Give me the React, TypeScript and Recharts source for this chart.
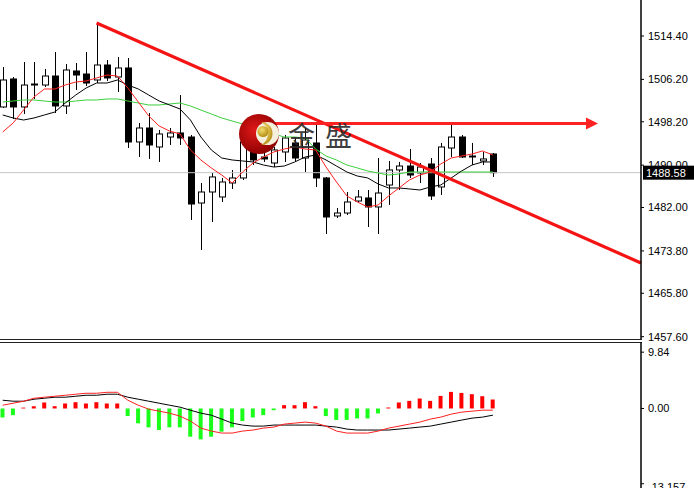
import {
  ComposedChart, Bar, Line, XAxis, YAxis, ReferenceLine, ReferenceDot, Cell,
} from 'recharts';

// K线数据
const opens = [1500.99, 1506.28, 1500.99, 1505.14, 1505.14, 1506.84, 1501.18, 1507.79, 1507.22, 1506.09, 1508.92, 1506.65, 1508.36, 1494.38, 1497.02, 1493.43, 1495.32, 1496.08, 1495.32, 1482.85, 1484.93, 1483.99, 1486.63, 1487.58, 1492.49, 1491.54, 1490.41, 1492.49, 1494.19, 1491.35, 1494.19, 1487.58, 1480.40, 1480.96, 1483.23, 1483.80, 1482.10, 1486.25, 1489.09, 1489.84, 1488.52, 1490.22, 1485.88, 1493.24, 1495.32, 1491.54, 1490.79, 1492.11];
const highs = [1508.54, 1506.65, 1509.49, 1509.49, 1508.17, 1511.38, 1509.11, 1509.30, 1511.38, 1516.86, 1509.87, 1510.43, 1510.24, 1497.97, 1499.85, 1496.64, 1497.02, 1503.25, 1495.70, 1486.63, 1488.52, 1487.58, 1489.09, 1495.13, 1493.81, 1492.87, 1493.43, 1495.70, 1495.32, 1497.02, 1498.15, 1487.77, 1481.91, 1484.93, 1485.31, 1485.31, 1491.35, 1490.79, 1490.60, 1493.05, 1490.41, 1491.35, 1494.19, 1497.59, 1495.70, 1494.19, 1492.49, 1492.30];
const lows = [1500.80, 1498.72, 1499.67, 1502.50, 1504.77, 1499.85, 1499.67, 1504.20, 1504.95, 1505.52, 1505.90, 1503.82, 1493.24, 1491.54, 1491.17, 1490.60, 1493.81, 1493.81, 1479.64, 1473.98, 1479.27, 1483.04, 1485.50, 1487.20, 1490.03, 1490.60, 1489.65, 1490.60, 1490.60, 1488.71, 1485.88, 1477.00, 1480.02, 1480.59, 1482.85, 1478.32, 1477.00, 1482.48, 1485.31, 1487.58, 1486.63, 1483.42, 1484.37, 1491.54, 1491.35, 1490.03, 1490.03, 1487.77];
const closes = [1506.09, 1500.99, 1505.14, 1505.33, 1506.84, 1501.18, 1507.98, 1507.03, 1505.52, 1508.92, 1506.47, 1508.36, 1494.38, 1497.02, 1493.81, 1495.89, 1496.08, 1495.13, 1482.66, 1484.93, 1487.77, 1486.82, 1487.58, 1494.38, 1490.98, 1491.17, 1492.87, 1495.13, 1491.35, 1494.75, 1487.58, 1480.21, 1480.96, 1483.04, 1483.99, 1482.10, 1484.74, 1489.09, 1489.84, 1488.14, 1489.65, 1484.18, 1493.43, 1495.32, 1491.54, 1491.73, 1491.17, 1488.58];

// 均线
const maFast = [1496.27, 1497.97, 1500.42, 1502.88, 1504.39, 1504.39, 1505.14, 1505.71, 1505.90, 1506.47, 1507.03, 1506.84, 1504.58, 1501.93, 1499.29, 1497.40, 1496.45, 1495.89, 1492.87, 1490.98, 1489.47, 1488.14, 1486.63, 1488.71, 1490.41, 1491.54, 1492.49, 1493.05, 1493.43, 1493.05, 1492.87, 1489.65, 1486.82, 1484.18, 1483.04, 1482.10, 1482.48, 1484.18, 1485.69, 1487.20, 1488.14, 1488.71, 1490.22, 1491.35, 1491.73, 1492.11, 1492.68, 1491.92];
const maMid = [1499.48, 1498.91, 1498.53, 1498.91, 1499.48, 1500.04, 1501.74, 1503.25, 1504.58, 1505.52, 1505.52, 1506.09, 1505.14, 1504.39, 1503.25, 1502.12, 1501.37, 1500.61, 1498.53, 1495.32, 1492.87, 1491.35, 1490.98, 1490.79, 1490.60, 1490.03, 1489.65, 1489.84, 1490.60, 1491.54, 1491.92, 1490.98, 1489.84, 1488.71, 1487.95, 1487.58, 1486.44, 1485.69, 1485.69, 1485.50, 1485.31, 1485.88, 1486.25, 1487.58, 1488.90, 1490.03, 1490.60, 1490.60];
const maSlow = [1501.93, 1502.12, 1502.31, 1502.31, 1502.12, 1501.93, 1501.93, 1502.12, 1502.31, 1502.31, 1502.50, 1502.50, 1502.12, 1501.74, 1501.37, 1501.37, 1501.56, 1501.74, 1501.18, 1500.42, 1499.67, 1498.91, 1498.34, 1497.78, 1497.21, 1496.64, 1495.89, 1495.32, 1495.32, 1495.13, 1493.05, 1491.73, 1490.98, 1490.03, 1489.47, 1488.90, 1488.52, 1488.14, 1488.33, 1488.71, 1488.71, 1488.71, 1488.71, 1488.71, 1488.71, 1488.71, 1488.71, 1488.71];

// MACD
const macdMain = [1.44, 1.27, 1.27, 1.62, 1.79, 1.97, 1.97, 2.14, 2.31, 2.31, 2.49, 2.49, 1.97, 1.62, 1.27, 0.92, 0.57, 0.23, -0.30, -0.82, -1.17, -1.86, -2.56, -2.90, -3.08, -3.08, -2.90, -2.90, -2.90, -2.90, -2.90, -3.08, -3.25, -3.60, -3.77, -3.77, -3.77, -3.77, -3.60, -3.43, -3.25, -3.08, -2.73, -2.38, -2.03, -1.69, -1.51, -1.17];
const macdSignal = [0.57, 0.92, 1.27, 1.79, 1.97, 2.14, 2.31, 2.49, 2.66, 2.66, 2.83, 2.83, 1.44, 0.57, -0.12, -0.47, -0.82, -1.34, -2.20, -3.43, -3.95, -4.30, -4.30, -3.95, -3.77, -3.43, -3.25, -2.73, -2.56, -2.38, -2.56, -3.08, -3.95, -4.30, -4.30, -4.30, -3.95, -3.43, -3.08, -2.73, -2.38, -1.86, -1.51, -0.99, -0.64, -0.47, -0.30, -0.30];
const macdHist = [-1.57, -1.17, 0.15, 0.40, 1.05, 0.40, 0.87, 1.10, 0.87, 1.10, 0.87, 0.87, -1.33, -2.60, -3.30, -3.77, -3.30, -3.30, -4.93, -5.40, -4.93, -4.06, -3.30, -2.20, -1.57, -1.16, -0.30, 0.58, 0.58, 1.10, 0.40, -1.33, -2.00, -2.00, -1.74, -1.74, -0.87, 0.17, 1.05, 1.33, 1.74, 1.33, 2.20, 2.90, 2.72, 2.50, 2.14, 1.57];

const priceTicks = [1514.40, 1506.20, 1498.20, 1490.00, 1482.00, 1473.80, 1465.80, 1457.60];
const macdTicks = [9.84, 0, -13.157];
const macdMinLabel = '-13.157';

// 趋势线 / 水平箭头
const trendStart = { x: 9, y: 1516.86 };
const trendEnd = { x: 61.2, y: 1471.52 };
const arrowLevel = 1497.87;
const arrowFrom = 24.2;
const arrowTo = 56.1;
const arrowTip = 56.5;

const lastPrice = closes[closes.length - 1];

const FONT = "'Liberation Sans', Arial, sans-serif";
const X_DOMAIN: [number, number] = [-0.26, 61.2];

const candles = opens.map((o, i) => ({
  i,
  open: o,
  high: highs[i],
  low: lows[i],
  close: closes[i],
  range: [lows[i], highs[i]],
  maFast: maFast[i],
  maMid: maMid[i],
  maSlow: maSlow[i],
}));

const macdData = macdMain.map((m, i) => ({
  i,
  main: m,
  signal: macdSignal[i],
  hist: macdHist[i],
}));

function Candle(props: any) {
  const { x, y, width, height, payload } = props;
  const { open, close, high, low } = payload;
  const top = Math.min(y, y + height);
  const h = Math.abs(height);
  const k = high === low ? 0 : h / (high - low);
  const cx = Math.round(x + width / 2) + 0.5;
  const bTop = top + (high - Math.max(open, close)) * k;
  const bBot = top + (high - Math.min(open, close)) * k;
  const bull = close >= open;
  return (
    <g>
      <line x1={cx} x2={cx} y1={top} y2={top + h} stroke="#000" strokeWidth={1} />
      <rect
        x={cx - 3}
        y={bTop}
        width={6}
        height={Math.max(bBot - bTop, 1)}
        fill={bull ? '#fff' : '#000'}
        stroke="#000"
        strokeWidth={1}
      />
    </g>
  );
}

function PriceTag(props: any) {
  const { viewBox } = props;
  if (!viewBox) return null;
  const x = viewBox.x + viewBox.width + 2;
  const y = viewBox.y;
  return (
    <g>
      <rect x={x} y={y - 7} width={52} height={14} fill="#000" />
      <text x={x + 3} y={y + 4} fill="#fff" fontSize={11} fontFamily={FONT}>
        {lastPrice.toFixed(2)}
      </text>
    </g>
  );
}

// 副图刻度：最小值标签贴底，只露出上半截
function MacdTick(props: any) {
  const { x, y, payload } = props;
  const v = payload.value;
  const isMin = v === macdTicks[2];
  return (
    <text x={x} y={isMin ? y + 3.5 : y} dy="0.355em" fontSize={11} fill="#000" fontFamily={FONT} textAnchor="start">
      {isMin ? macdMinLabel : v.toFixed(2)}
    </text>
  );
}

function ArrowHead(props: any) {
  const { cx, cy } = props;
  return <polygon points={`${cx - 6},${cy - 6} ${cx + 6},${cy} ${cx - 6},${cy + 6}`} fill="#f22" />;
}

function Logo() {
  return (
    <svg width={694} height={340} style={{ position: 'absolute', left: 0, top: 0, pointerEvents: 'none' }}>
      <defs>
        <radialGradient id="lg-red" cx="40%" cy="40%" r="65%">
          <stop offset="0%" stopColor="#e01818" />
          <stop offset="100%" stopColor="#8a0000" />
        </radialGradient>
        <radialGradient id="lg-gold" cx="40%" cy="35%" r="70%">
          <stop offset="0%" stopColor="#f5dc70" />
          <stop offset="100%" stopColor="#b08a10" />
        </radialGradient>
      </defs>
      <circle cx={259} cy={134} r={20} fill="url(#lg-red)" />
      <circle cx={267.5} cy={133.5} r={11.5} fill="#f6efdc" />
      <path d="M 261 122 A 11.5 11.5 0 1 1 261 145 A 13 13 0 0 0 261 122 Z" fill="url(#lg-gold)" />
      <circle cx={263} cy={131.5} r={5.5} fill="url(#lg-gold)" />
      <g fontFamily="'Noto Sans CJK SC', sans-serif" fontSize={27} fill="#2a2a2a" opacity={0.9}>
        <text x={288} y={146}>金</text>
        <text x={325} y={146}>盛</text>
      </g>
    </svg>
  );
}

export default function App() {
  return (
    <div style={{ position: 'relative', width: 694, height: 488, overflow: 'hidden', background: '#fff' }}>
      <style>{'body{margin:0}'}</style>

      {/* 主图 */}
      <div style={{ position: 'absolute', left: 0, top: 0 }}>
        <ComposedChart width={694} height={345} data={candles} margin={{ top: 0, right: 0, bottom: 6, left: 0 }}>
          <XAxis dataKey="i" type="number" domain={X_DOMAIN} allowDataOverflow hide />
          <YAxis
            orientation="right"
            width={53}
            domain={[1457.16, 1521.2]}
            allowDataOverflow
            ticks={priceTicks}
            interval={0}
            tickFormatter={(v: number) => v.toFixed(2)}
            tick={{ fontSize: 11, fill: '#000', fontFamily: FONT }}
            tickSize={3}
            tickMargin={4}
            axisLine={{ stroke: '#000', strokeWidth: 1.5 }}
            tickLine={{ stroke: '#000' }}
          />
          <ReferenceLine y={lastPrice} stroke="#c4c4c4" strokeWidth={1} label={<PriceTag />} />
          <Line type="linear" dataKey="maSlow" stroke="#3ccf3c" strokeWidth={1} dot={false} activeDot={false} isAnimationActive={false} />
          <Line type="linear" dataKey="maMid" stroke="#000" strokeWidth={1} dot={false} activeDot={false} isAnimationActive={false} />
          <Line type="linear" dataKey="maFast" stroke="#ff2020" strokeWidth={1} dot={false} activeDot={false} isAnimationActive={false} />
          <Bar dataKey="range" barSize={7} shape={<Candle />} activeBar={false} isAnimationActive={false} />
          <ReferenceLine segment={[trendStart, trendEnd]} stroke="#f51414" strokeWidth={3.2} />
          <ReferenceLine
            segment={[{ x: arrowFrom, y: arrowLevel }, { x: arrowTo, y: arrowLevel }]}
            stroke="#f22"
            strokeWidth={3}
          />
          <ReferenceDot x={arrowTip} y={arrowLevel} shape={<ArrowHead />} />
        </ComposedChart>
      </div>

      <Logo />

      {/* 分隔线 */}
      <div style={{ position: 'absolute', left: 0, top: 339, width: 642, height: 1, background: '#222' }} />
      <div style={{ position: 'absolute', left: 0, top: 342, width: 642, height: 1, background: '#222' }} />

      {/* MACD 副图 */}
      <div style={{ position: 'absolute', left: 0, top: 342 }}>
        <ComposedChart width={694} height={146} data={macdData} margin={{ top: 0, right: 0, bottom: 0, left: 0 }}>
          <XAxis dataKey="i" type="number" domain={X_DOMAIN} allowDataOverflow hide />
          <YAxis
            orientation="right"
            width={53}
            domain={[-13.9, 11.62]}
            allowDataOverflow
            ticks={macdTicks}
            interval={0}
            tick={<MacdTick />}
            tickSize={3}
            tickMargin={4}
            axisLine={{ stroke: '#000', strokeWidth: 1.5 }}
            tickLine={{ stroke: '#000' }}
          />
          <Bar dataKey="hist" barSize={4} activeBar={false} isAnimationActive={false}>
            {macdData.map((d) => (
              <Cell key={d.i} fill={d.hist >= 0 ? '#ff0000' : '#1aff1a'} />
            ))}
          </Bar>
          <Line type="linear" dataKey="main" stroke="#000" strokeWidth={1} dot={false} activeDot={false} isAnimationActive={false} />
          <Line type="linear" dataKey="signal" stroke="#ff2020" strokeWidth={1} dot={false} activeDot={false} isAnimationActive={false} />
        </ComposedChart>
      </div>
    </div>
  );
}
